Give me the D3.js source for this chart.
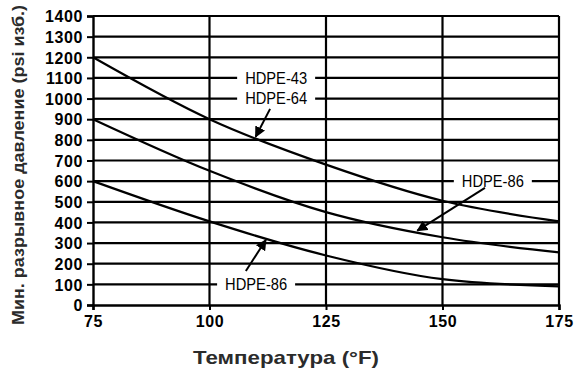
<!DOCTYPE html>
<html>
<head>
<meta charset="utf-8">
<script src="https://cdn.jsdelivr.net/npm/d3@7"></script>
<style>
  html, body { margin: 0; padding: 0; background: #fff; }
  svg { display: block; }
</style>
</head>
<body>
<svg id="chart" width="574" height="371"></svg>
<script>
// Temperature points (°F)
const temps = [75, 100, 125, 150, 175];
// Minimum burst pressure, psi gauge
const hdpe4364 = [1200, 900, 680, 505, 405];
const hdpe86Upper = [900, 650, 450, 328, 255];
const hdpe86Lower = [600, 405, 240, 125, 90];

const xTicks = [75, 100, 125, 150, 175];
const yTicks = d3.range(0, 1401, 100);

// Callouts: label anchored on a gridline, arrow from tail to tip (data units)
const callouts = [
  { text: "HDPE-43", x: 114.3, y: 1100, arrow: null },
  { text: "HDPE-64", x: 114.3, y: 1000, arrow: [[113.0, 950], [109.9, 815]] },
  { text: "HDPE-86", x: 160.8, y: 600, arrow: [[159.1, 567], [144.6, 360]] },
  { text: "HDPE-86", x: 110, y: 100, arrow: [[107.8, 165], [112.1, 315]] }
];

const svg = d3.select("#chart");
const margin = { left: 93, right: 15, top: 16, bottom: 66 };
const W = 574, H = 371;

const x = d3.scaleLinear().domain([75, 175]).range([margin.left, W - margin.right]);
const y = d3.scaleLinear().domain([0, 1400]).range([H - margin.bottom, margin.top]);

// Horizontal gridlines
svg.append("g")
  .selectAll("line")
  .data(yTicks.filter(d => d > 0))
  .join("line")
  .attr("x1", x(75)).attr("x2", x(175))
  .attr("y1", d => y(d)).attr("y2", d => y(d))
  .attr("stroke", "#000").attr("stroke-width", 2.2);

// Vertical gridlines
svg.append("g")
  .selectAll("line")
  .data(xTicks.filter(d => d > 75))
  .join("line")
  .attr("x1", d => x(d)).attr("x2", d => x(d))
  .attr("y1", y(0)).attr("y2", y(1400))
  .attr("stroke", "#000").attr("stroke-width", 2.2);

// Curves
const line = d3.line().x((d, i) => x(temps[i])).y(d => y(d)).curve(d3.curveMonotoneX);
[hdpe4364, hdpe86Upper, hdpe86Lower].forEach(series => {
  svg.append("path")
    .datum(series)
    .attr("d", line)
    .attr("fill", "none")
    .attr("stroke", "#000")
    .attr("stroke-width", 2.2);
});

// Axes
const yAxis = svg.append("g")
  .attr("transform", `translate(${x(75)},0)`)
  .call(d3.axisLeft(y).tickValues(yTicks).tickFormat(d3.format("d")).tickSize(6).tickPadding(4));
const xAxis = svg.append("g")
  .attr("transform", `translate(0,${y(0)})`)
  .call(d3.axisBottom(x).tickValues(xTicks).tickFormat(d3.format("d")).tickSize(5).tickPadding(6));

[yAxis, xAxis].forEach(g => {
  g.select(".domain").attr("stroke", "#000").attr("stroke-width", 2.4);
  g.selectAll(".tick line").attr("stroke", "#000").attr("stroke-width", 2);
  g.selectAll(".tick text")
    .attr("fill", "#000")
    .style("font-family", "'Liberation Sans', Arial, sans-serif")
    .style("font-weight", "bold")
    .style("font-size", "16px")
    .style("letter-spacing", "0.6px");
});
yAxis.selectAll(".tick text").attr("dy", "0.36em");

// Callout labels with white knockout over the gridline
const cg = svg.append("g");
callouts.forEach(c => {
  const cx = x(c.x), cy = y(c.y);
  cg.append("rect")
    .attr("x", cx - 39).attr("y", cy - 3)
    .attr("width", 78).attr("height", 6)
    .attr("fill", "#fff");
  cg.append("text")
    .attr("x", cx).attr("y", cy)
    .attr("dy", "0.36em")
    .attr("text-anchor", "middle")
    .attr("textLength", 62)
    .attr("lengthAdjust", "spacingAndGlyphs")
    .style("font-family", "'Liberation Sans', Arial, sans-serif")
    .style("font-size", "16px")
    .attr("fill", "#000")
    .text(c.text);
});

// Arrows
svg.append("defs").append("marker")
  .attr("id", "arrowhead")
  .attr("viewBox", "0 0 10 10")
  .attr("refX", 9).attr("refY", 5)
  .attr("markerWidth", 5.5).attr("markerHeight", 5.5)
  .attr("markerUnits", "strokeWidth")
  .attr("orient", "auto")
  .append("path")
  .attr("d", "M0,0 L10,5 L0,10 Z")
  .attr("fill", "#000");

callouts.filter(c => c.arrow).forEach(c => {
  const [t, h] = c.arrow;
  svg.append("line")
    .attr("x1", x(t[0])).attr("y1", y(t[1]))
    .attr("x2", x(h[0])).attr("y2", y(h[1]))
    .attr("stroke", "#000").attr("stroke-width", 2)
    .attr("marker-end", "url(#arrowhead)");
});

// Axis titles
svg.append("text")
  .attr("x", 286)
  .attr("y", 364)
  .attr("text-anchor", "middle")
  .attr("textLength", 186)
  .attr("lengthAdjust", "spacingAndGlyphs")
  .style("font-family", "'Liberation Sans', Arial, sans-serif")
  .style("font-weight", "bold")
  .style("font-size", "19px")
  .attr("fill", "#2b2b2b")
  .text("Температура  (°F)");

svg.append("text")
  .attr("transform", "translate(24,165) rotate(-90)")
  .attr("text-anchor", "middle")
  .attr("textLength", 320)
  .attr("lengthAdjust", "spacingAndGlyphs")
  .style("font-family", "'Liberation Sans', Arial, sans-serif")
  .style("font-weight", "bold")
  .style("font-size", "17px")
  .attr("fill", "#2b2b2b")
  .text("Мин. разрывное давление (psi изб.)");
</script>
</body>
</html>
